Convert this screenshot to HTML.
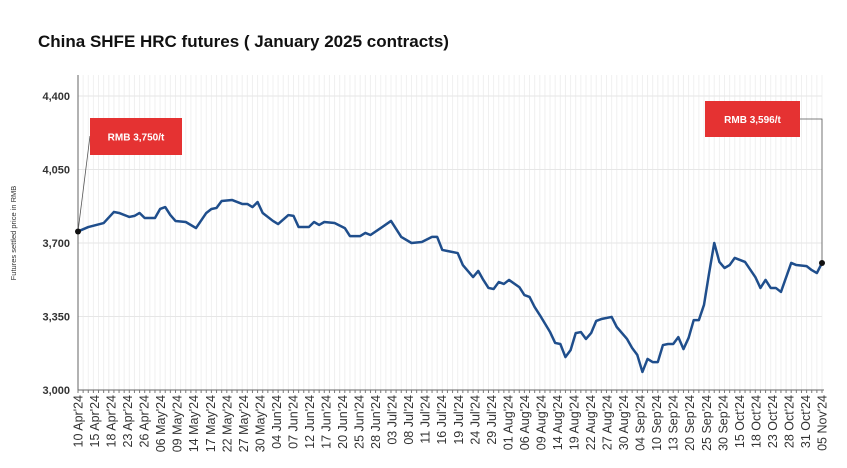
<!DOCTYPE html>
<html><head><meta charset="utf-8"><style>
body{margin:0;background:#fff;width:847px;height:468px;overflow:hidden;font-family:"Liberation Sans",sans-serif}
#title{position:absolute;left:38px;top:32px;font-size:17px;font-weight:bold;color:#111}
svg{position:absolute;left:0;top:0}
</style></head><body>
<div id="title">China SHFE HRC futures ( January 2025 contracts)</div>
<svg id="c" width="847" height="468"></svg>
<script>
const days=[0,2,5,7,8,10,11,12,13,15,16,17,18,19,21,23,25,26,27,28,30,32,33,34,35,36,38,39,41,42,43,45,46,47,48,50,52,53,55,56,57,59,61,63,65,67,69,70,71,72,74,75,77,78,79,80,81,82,83,84,86,87,88,89,90,92,93,94,95,96,97,98,99,100,101,102,104,105,107,108,109,110,111,112,113,114,115,116,117,118,119,120,121,122,123,124,125,126,127,128,130,132,133,134,135,136,137,139,140,142,143,144,145];
const prices=[3755,3776,3795,3848,3843,3824,3829,3843,3819,3819,3862,3871,3833,3805,3800,3771,3843,3862,3867,3900,3905,3886,3886,3871,3895,3843,3805,3790,3833,3829,3776,3776,3800,3786,3800,3795,3771,3733,3733,3748,3738,3771,3805,3729,3700,3705,3729,3729,3667,3662,3652,3595,3538,3567,3524,3486,3481,3514,3505,3524,3490,3452,3443,3395,3357,3276,3224,3219,3157,3190,3271,3276,3243,3271,3329,3338,3348,3300,3243,3200,3167,3086,3148,3133,3133,3214,3219,3219,3252,3195,3248,3333,3333,3405,3557,3700,3610,3581,3595,3629,3610,3538,3486,3524,3486,3486,3467,3605,3595,3590,3571,3557,3605];
const yTicks=[3000,3350,3700,4050,4400];
const xLabels=["10 Apr'24","15 Apr'24","18 Apr'24","23 Apr'24","26 Apr'24","06 May'24","09 May'24","14 May'24","17 May'24","22 May'24","27 May'24","30 May'24","04 Jun'24","07 Jun'24","12 Jun'24","17 Jun'24","20 Jun'24","25 Jun'24","28 Jun'24","03 Jul'24","08 Jul'24","11 Jul'24","16 Jul'24","19 Jul'24","24 Jul'24","29 Jul'24","01 Aug'24","06 Aug'24","09 Aug'24","14 Aug'24","19 Aug'24","22 Aug'24","27 Aug'24","30 Aug'24","04 Sep'24","10 Sep'24","13 Sep'24","20 Sep'24","25 Sep'24","30 Sep'24","15 Oct'24","18 Oct'24","23 Oct'24","28 Oct'24","31 Oct'24","05 Nov'24"];
const NS="http://www.w3.org/2000/svg",svg=document.getElementById('c');
const L=78,R=822,T=96,B=390,maxDay=145;
const x=d=>L+d/maxDay*(R-L), y=v=>B-(v-3000)/1400*(B-T);
function mk(t,a,p){const e=document.createElementNS(NS,t);for(const k in a)e.setAttribute(k,a[k]);(p||svg).appendChild(e);return e;}
for(let d=1;d<=maxDay;d++){const g=mk('line',{x1:x(d),x2:x(d),y1:75,y2:B,stroke:'#f0f0f0','stroke-width':1});

}
yTicks.forEach(v=>{const g=mk('line',{x1:L,x2:R,y1:y(v),y2:y(v),stroke:'#e6e6e6'});


const t=mk('text',{x:70,y:y(v)+4,'text-anchor':'end','font-size':11,'font-weight':'bold',fill:'#333'});t.textContent=v.toLocaleString('en-US');

});
const ax=mk('line',{x1:L,x2:L,y1:75,y2:B,stroke:'#666'});


const bx=mk('line',{x1:L,x2:R+2,y1:B,y2:B,stroke:'#666'});


for(let d=0;d<=maxDay;d++){const tk=mk('line',{x1:x(d),x2:x(d),y1:B,y2:B+3,stroke:'#777'});

}
const yt=mk('text',{x:0,y:0,'font-size':7.5,fill:'#333','text-anchor':'middle',transform:'translate(16,233) rotate(-90)'});yt.textContent='Futures settled price in RMB';


xLabels.forEach((s,i)=>{const d=i*maxDay/(xLabels.length-1);const t=mk('text',{x:0,y:0,'font-size':12.5,fill:'#333','text-anchor':'end',transform:`translate(${x(d)+4.5},395) rotate(-90)`});t.textContent=s;

});
const pl=mk('polyline',{points:days.map((d,i)=>x(d)+','+y(prices[i])).join(' '),fill:'none',stroke:'#1f4e8c','stroke-width':2.5,'stroke-linejoin':'round'});


const x0=x(days[0]),y0=y(prices[0]),x1=x(days[days.length-1]),y1=y(prices[prices.length-1]);
const l1=mk('polyline',{points:`${x0},${y0} 90,136`,fill:'none',stroke:'#555','stroke-width':0.8});


const l2=mk('polyline',{points:`800,119 ${x1},119 ${x1},${y1}`,fill:'none',stroke:'#555','stroke-width':0.8});


[[x0,y0,'start-point'],[x1,y1,'end-point']].forEach(p=>{const c=mk('circle',{cx:p[0],cy:p[1],r:3,fill:'#111'});

});
[[90,118,92,37,'RMB 3,750/t','start-callout'],[705,101,95,36,'RMB 3,596/t','end-callout']].forEach(b=>{
const g=mk('g',{});


mk('rect',{x:b[0],y:b[1],width:b[2],height:b[3],fill:'#e53232'},g);
const t=mk('text',{x:b[0]+b[2]/2,y:b[1]+b[3]/2+4,'text-anchor':'middle','font-size':10,'font-weight':'bold',fill:'#fff'},g);t.textContent=b[4];});
</script>
</body></html>
